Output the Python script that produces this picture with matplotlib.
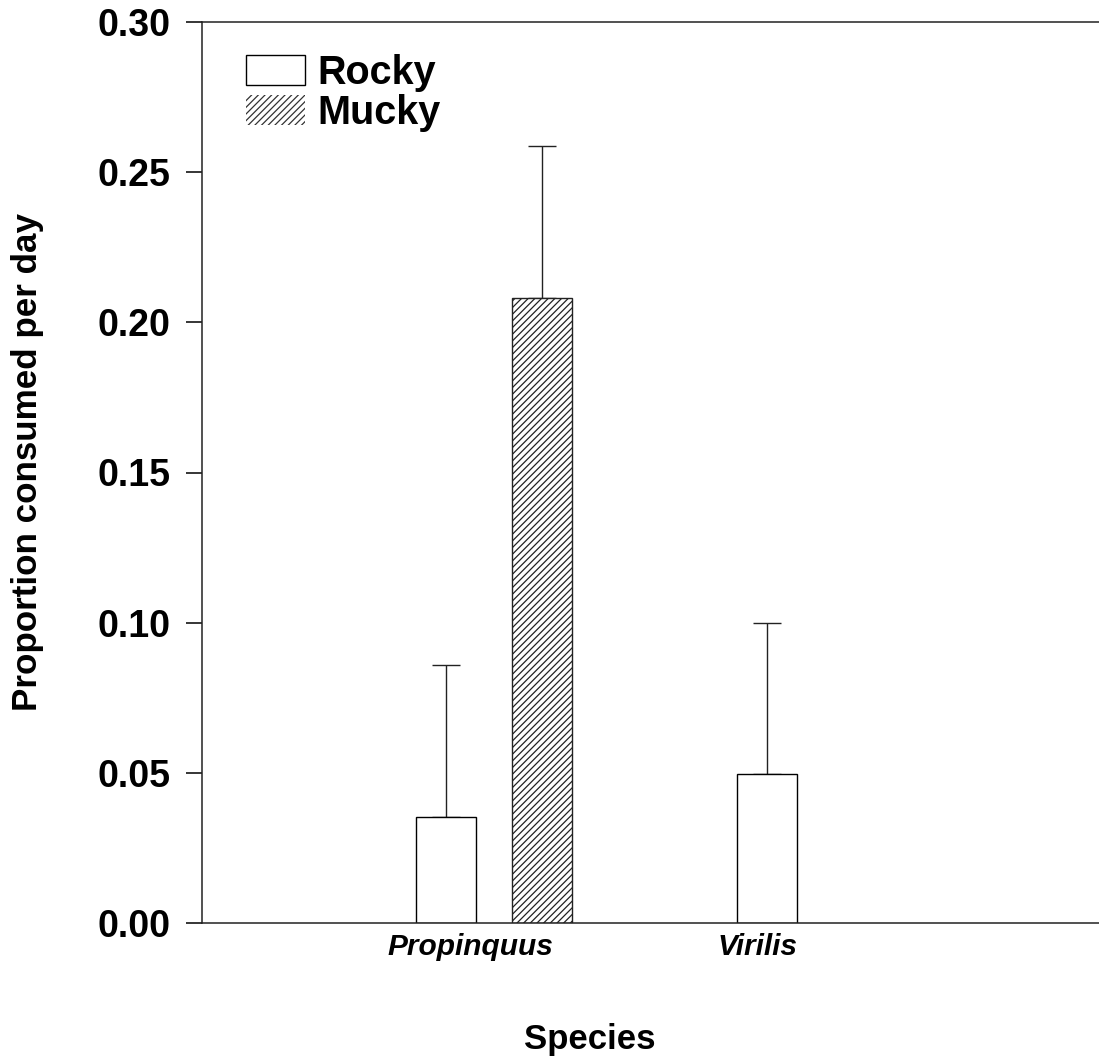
import numpy as np
import matplotlib
matplotlib.use("Agg")
import matplotlib.pyplot as plt
from matplotlib.patches import Patch

plt.rcParams['font.family'] = ['Liberation Sans', 'DejaVu Sans']
plt.rcParams['hatch.linewidth'] = 0.9
plt.rcParams['hatch.color'] = '#333333'

# data
species = ['Propinquus', 'Virilis']
rocky_mean = [0.0353, 0.0496]
rocky_err = [0.0506, 0.0503]
mucky_mean = [0.208]
mucky_err = [0.0507]

# layout (pixel-like x units)
tick_pos = [470, 758]
rocky_x = [446, 767]
mucky_x = [542]
bar_w = 60

fig = plt.figure(figsize=(10.99, 10.63), dpi=100)
W, H = 1099, 1063
ax = fig.add_axes([202 / W, 1 - 923 / H, (1099 - 202) / W, (923 - 22) / H])

ax.bar(rocky_x, rocky_mean, width=bar_w, color='white', edgecolor='black', linewidth=1.0, zorder=2)
ax.bar(mucky_x, mucky_mean, width=bar_w, color='white', edgecolor='#222222', linewidth=1.0,
       hatch='/////', zorder=2)
ax.errorbar(rocky_x, rocky_mean, yerr=[np.zeros(len(rocky_err)), rocky_err], fmt='none',
            ecolor='#222222', elinewidth=1.0, capsize=10, capthick=1.0, zorder=1)
ax.errorbar(mucky_x, mucky_mean, yerr=[np.zeros(len(mucky_err)), mucky_err], fmt='none',
            ecolor='#222222', elinewidth=1.0, capsize=10, capthick=1.0, zorder=1)

ax.set_xlim(202, 1099)
ax.set_ylim(0, 0.30)
ax.set_yticks(np.arange(0, 0.31, 0.05))
ax.set_yticklabels(['%.2f' % v for v in np.arange(0, 0.31, 0.05)], fontsize=27, fontweight='bold')
ax.set_xticks(tick_pos)
ax.set_xticklabels(species, fontsize=21.5, fontweight='bold', style='italic')
ax.tick_params(axis='x', length=0, pad=7)
ax.tick_params(axis='y', length=11.5, width=1.1, direction='out', pad=11)

ax.spines['right'].set_visible(False)
for s in ['left', 'bottom', 'top']:
    ax.spines[s].set_linewidth(1.1)
    ax.spines[s].set_color('#222222')

fig.text(28 / W, 1 - 462 / H, 'Proportion consumed per day', rotation=90, ha='center', va='center',
         fontsize=25.2, fontweight='bold')
fig.text(590 / W, 1 - 1040 / H, 'Species', ha='center', va='center', fontsize=25, fontweight='bold')

handles = [Patch(facecolor='white', edgecolor='black', linewidth=1.0, label='Rocky'),
           Patch(facecolor='white', edgecolor='#333333', linewidth=0, hatch='/////', label='Mucky')]
leg = ax.legend(handles=handles, loc='upper left', bbox_to_anchor=(44 / 897, 1 - 32 / 901),
                frameon=False, prop={'size': 28.5, 'weight': 'bold'}, handlelength=1.5,
                handleheight=0.8, handletextpad=0.3, labelspacing=0.05, borderaxespad=0,
                borderpad=0)

fig.savefig('out.png', dpi=100)
